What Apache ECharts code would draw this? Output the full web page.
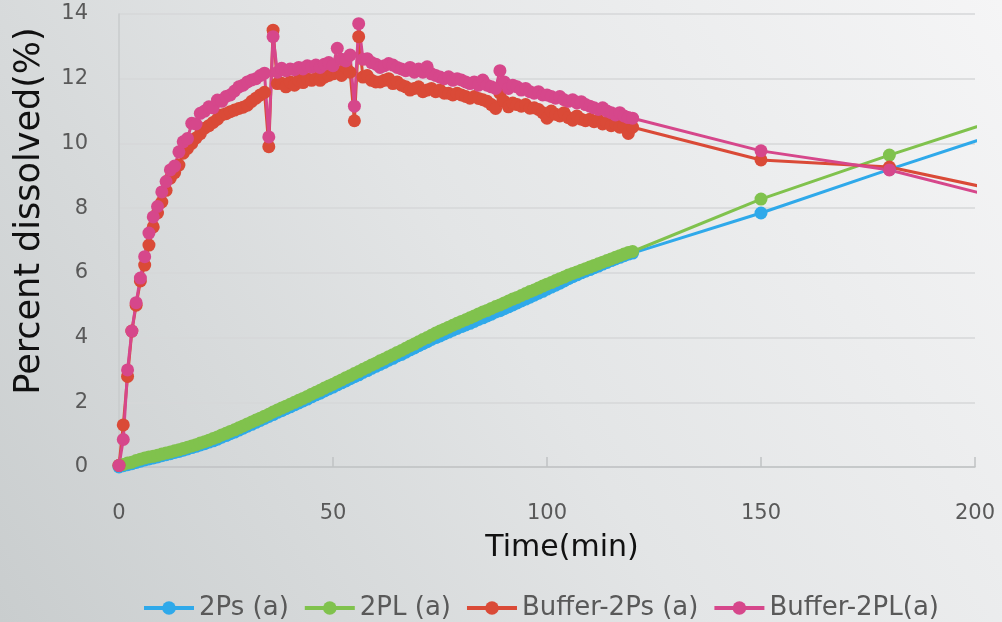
<!DOCTYPE html>
<html>
<head>
<meta charset="utf-8">
<script src="https://cdn.jsdelivr.net/npm/echarts@6/dist/echarts.min.js"></script>
<style>
  html, body { margin: 0; padding: 0; }
  #chart { width: 1002px; height: 622px; }
</style>
</head>
<body>
<div id="chart"></div>
<script>
// Sampling times (min): every minute up to 120, then 150, 180, 210
const times = [];
for (let t = 0; t <= 120; t++) times.push(t);
times.push(150, 180, 210);

const xTicks = [0, 50, 100, 150, 200];
const yTicks = [0, 2, 4, 6, 8, 10, 12, 14];

const seriesNames = ['2Ps (a)', '2PL (a)', 'Buffer-2Ps (a)', 'Buffer-2PL(a)'];

// 2Ps (a)
const ps2 = [
  0.00, 0.04, 0.07, 0.10, 0.14, 0.18, 0.22, 0.25, 0.28, 0.31,
  0.35, 0.38, 0.41, 0.45, 0.48, 0.52, 0.56, 0.60, 0.64, 0.68,
  0.72, 0.77, 0.81, 0.86, 0.92, 0.97, 1.03, 1.08, 1.14, 1.20,
  1.26, 1.32, 1.38, 1.44, 1.50, 1.56, 1.62, 1.69, 1.74, 1.80,
  1.86, 1.92, 1.98, 2.04, 2.10, 2.17, 2.23, 2.28, 2.35, 2.41,
  2.47, 2.54, 2.60, 2.66, 2.73, 2.79, 2.85, 2.92, 2.98, 3.05,
  3.11, 3.17, 3.23, 3.30, 3.36, 3.43, 3.48, 3.55, 3.62, 3.68,
  3.75, 3.81, 3.87, 3.94, 4.00, 4.05, 4.11, 4.17, 4.23, 4.28,
  4.34, 4.39, 4.44, 4.50, 4.56, 4.61, 4.67, 4.72, 4.79, 4.83,
  4.89, 4.95, 5.01, 5.07, 5.13, 5.19, 5.25, 5.31, 5.37, 5.43,
  5.50, 5.56, 5.62, 5.68, 5.75, 5.82, 5.88, 5.94, 6.00, 6.05,
  6.10, 6.16, 6.21, 6.27, 6.32, 6.38, 6.43, 6.48, 6.53, 6.58,
  6.61, 7.85, 9.20, 10.50
];

// 2PL (a)
const pl2 = [
  0.05, 0.08, 0.12, 0.15, 0.20, 0.24, 0.28, 0.31, 0.33, 0.36,
  0.40, 0.43, 0.46, 0.50, 0.53, 0.57, 0.61, 0.65, 0.69, 0.74,
  0.78, 0.83, 0.88, 0.93, 0.99, 1.04, 1.10, 1.15, 1.21, 1.27,
  1.33, 1.39, 1.45, 1.51, 1.57, 1.63, 1.70, 1.76, 1.82, 1.88,
  1.94, 2.00, 2.06, 2.12, 2.18, 2.25, 2.31, 2.37, 2.44, 2.50,
  2.56, 2.63, 2.69, 2.76, 2.82, 2.89, 2.95, 3.02, 3.08, 3.15,
  3.21, 3.28, 3.34, 3.41, 3.47, 3.54, 3.60, 3.67, 3.74, 3.80,
  3.87, 3.94, 4.00, 4.07, 4.14, 4.20, 4.26, 4.32, 4.38, 4.44,
  4.50, 4.55, 4.61, 4.67, 4.73, 4.79, 4.84, 4.90, 4.96, 5.01,
  5.07, 5.13, 5.19, 5.24, 5.30, 5.36, 5.42, 5.47, 5.53, 5.59,
  5.65, 5.70, 5.76, 5.82, 5.87, 5.93, 5.98, 6.03, 6.08, 6.13,
  6.18, 6.23, 6.28, 6.33, 6.38, 6.43, 6.48, 6.53, 6.58, 6.63,
  6.66, 8.28, 9.64, 10.93
];

// Buffer-2Ps (a)
const bufPs2 = [
  0.05, 1.30, 2.80, 4.20, 5.00, 5.75, 6.24, 6.86, 7.42, 7.85,
  8.19, 8.55, 8.93, 9.10, 9.33, 9.70, 9.85, 10.00, 10.17, 10.30,
  10.47, 10.55, 10.65, 10.75, 10.88, 10.92, 10.98, 11.03, 11.08, 11.12,
  11.18, 11.30, 11.40, 11.50, 11.58, 9.90, 13.50, 11.85, 11.86, 11.75,
  11.90, 11.80, 11.95, 11.88, 12.00, 11.95, 12.01, 11.95, 12.05, 12.10,
  12.15, 12.22, 12.10, 12.35, 12.20, 10.70, 13.30, 12.05, 12.10, 11.95,
  11.90, 11.90, 11.95, 12.00, 11.85, 11.90, 11.80, 11.75, 11.65, 11.70,
  11.75, 11.60, 11.65, 11.70, 11.60, 11.65, 11.55, 11.55, 11.50, 11.55,
  11.50, 11.45, 11.40, 11.45, 11.39, 11.35, 11.30, 11.20, 11.08, 11.55,
  11.30, 11.13, 11.25, 11.20, 11.15, 11.20, 11.09, 11.10, 11.05, 10.95,
  10.78, 11.00, 10.90, 10.85, 10.95, 10.80, 10.72, 10.85, 10.75, 10.70,
  10.75, 10.67, 10.72, 10.60, 10.65, 10.55, 10.60, 10.50, 10.55, 10.31,
  10.50, 9.49, 9.27, 8.43
];

// Buffer-2PL(a)
const bufPl2 = [
  0.05, 0.85, 3.00, 4.20, 5.08, 5.84, 6.50, 7.23, 7.73, 8.05,
  8.50, 8.82, 9.18, 9.30, 9.74, 10.05, 10.15, 10.62, 10.60, 10.93,
  11.00, 11.13, 11.10, 11.34, 11.30, 11.45, 11.50, 11.62, 11.75, 11.80,
  11.90, 11.96, 12.00, 12.10, 12.17, 10.20, 13.30, 12.20, 12.32, 12.25,
  12.30, 12.28, 12.35, 12.30, 12.40, 12.36, 12.42, 12.35, 12.45, 12.50,
  12.40, 12.94, 12.60, 12.55, 12.73, 11.15, 13.70, 12.60, 12.62, 12.50,
  12.45, 12.35, 12.40, 12.47, 12.42, 12.35, 12.30, 12.25, 12.35, 12.20,
  12.30, 12.20, 12.37, 12.15, 12.10, 12.05, 12.00, 12.06, 11.95, 12.00,
  11.96, 11.90, 11.85, 11.90, 11.80, 11.96, 11.80, 11.75, 11.70, 12.25,
  11.90, 11.70, 11.80, 11.75, 11.65, 11.70, 11.60, 11.55, 11.60, 11.50,
  11.50, 11.45, 11.40, 11.45, 11.35, 11.30, 11.35, 11.25, 11.29, 11.20,
  11.15, 11.10, 11.05, 11.10, 11.00, 10.95, 10.88, 10.95, 10.85, 10.80,
  10.78, 9.77, 9.18, 8.17
];

const colors = ['#2fa9ea', '#80c24d', '#da4a37', '#d6478b'];
const values = [ps2, pl2, bufPs2, bufPl2];

const FONT = '"DejaVu Sans", sans-serif';

const chart = echarts.init(document.getElementById('chart'));

chart.setOption({
  animation: false,
  backgroundColor: {
    type: 'linear', x: 0, y: 1, x2: 1, y2: 0,
    colorStops: [
      { offset: 0, color: '#c9cdce' },
      { offset: 0.5, color: '#e3e5e6' },
      { offset: 1, color: '#f5f5f6' }
    ]
  },
  color: colors,
  grid: { left: 119, right: 27, top: 14, bottom: 155, containLabel: false },
  xAxis: {
    type: 'value',
    min: xTicks[0],
    max: xTicks[xTicks.length - 1],
    interval: 50,
    axisLine: { show: true, lineStyle: { color: '#c0c2c3', width: 1.5 } },
    axisTick: { show: true, inside: true, length: 10, lineStyle: { color: '#c0c2c3', width: 1.5 } },
    axisLabel: { color: '#595959', fontSize: 21, fontFamily: FONT, margin: 36 },
    splitLine: { show: false }
  },
  yAxis: {
    type: 'value',
    min: yTicks[0],
    max: yTicks[yTicks.length - 1],
    interval: 2,
    axisLine: { show: true, lineStyle: { color: '#c9cbcc', width: 1.5 } },
    axisTick: { show: false },
    axisLabel: { color: '#595959', fontSize: 21, fontFamily: FONT, margin: 31 },
    splitLine: { show: true, lineStyle: { color: '#d6d7d8', width: 1.5 } }
  },
  legend: {
    top: 590,
    left: 137,
    itemWidth: 50,
    itemHeight: 17,
    itemGap: 14,
    lineStyle: { width: 4 },
    textStyle: { color: '#595959', fontSize: 26, fontFamily: FONT },
    data: seriesNames
  },
  graphic: [
    {
      type: 'text', x: 562, y: 548,
      style: { text: 'Time(min)', fill: '#111', font: '30px ' + FONT, textAlign: 'center', textVerticalAlign: 'middle' }
    },
    {
      type: 'text', x: 30, y: 211, rotation: Math.PI / 2,
      style: { text: 'Percent dissolved(%)', fill: '#111', font: '35px ' + FONT, textAlign: 'center', textVerticalAlign: 'middle' }
    }
  ],
  series: seriesNames.map((name, i) => ({
    name: name,
    type: 'line',
    data: times.map((t, k) => [t, values[i][k]]),
    symbol: 'circle',
    symbolSize: 13,
    showAllSymbol: true,
    clip: true,
    lineStyle: { width: 3, color: colors[i] },
    itemStyle: { color: colors[i] }
  }))
});
</script>
</body>
</html>
